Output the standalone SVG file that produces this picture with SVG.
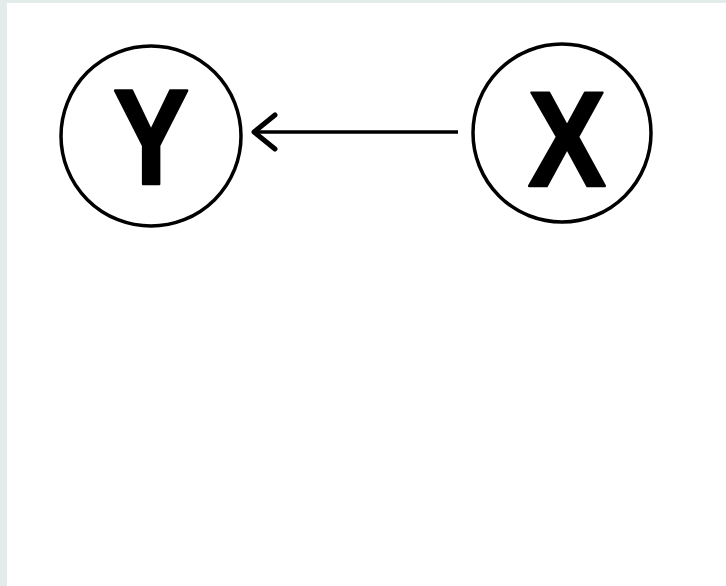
<svg xmlns="http://www.w3.org/2000/svg" width="726" height="586" viewBox="0 0 726 586">
<style>
.node{fill:#ffffff;stroke:#000000;stroke-width:3.5}
.lbl{font-family:"Liberation Sans",Arial,sans-serif;font-weight:bold;font-size:136px;fill:#000000;stroke:#000000;stroke-width:2.5;stroke-linejoin:round}
.edge{stroke:#000000;stroke-width:3.5;fill:none}
</style>
<defs>
<marker id="head" viewBox="0 0 30 40" refX="26" refY="20" markerWidth="30" markerHeight="40" markerUnits="userSpaceOnUse" orient="auto">
<path d="M5,3 L26,20 L5,37" fill="none" stroke="#000" stroke-width="5" stroke-linecap="round" stroke-linejoin="round"/>
</marker>
</defs>
<rect x="0" y="0" width="726" height="586" fill="#e3ecea"/>
<rect x="7" y="3" width="719" height="583" fill="#ffffff"/>
<g id="connectors">
<path class="edge" d="M458,132 L254,132" marker-end="url(#head)"/>
</g>
<g id="node-Y">
<circle class="node" cx="151" cy="136" r="90"/>
<text class="lbl" text-anchor="middle" transform="translate(151,184) scale(0.84,1)" x="0" y="0">Y</text>
</g>
<g id="node-X">
<circle class="node" cx="562" cy="133" r="89"/>
<text class="lbl" text-anchor="middle" transform="translate(567,186) scale(0.86,1)" x="0" y="0">X</text>
</g>
</svg>
